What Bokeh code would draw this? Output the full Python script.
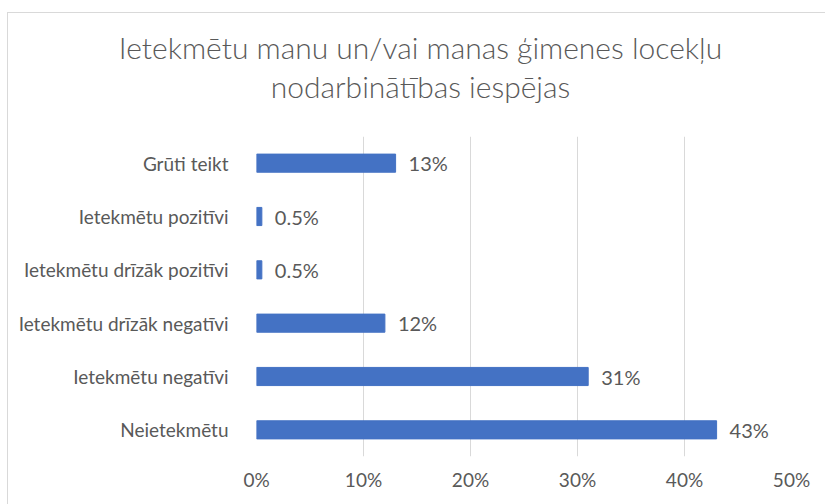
from bokeh.plotting import figure
from bokeh.layouts import column
from bokeh.models import Range1d, FixedTicker, PrintfTickFormatter
from bokeh.core.properties import value
from bokeh.embed import file_html
from bokeh.resources import INLINE

categories = ["Neietekmētu", "Ietekmētu negatīvi", "Ietekmētu drīzāk negatīvi",
              "Ietekmētu drīzāk pozitīvi", "Ietekmētu pozitīvi", "Grūti teikt"]
values = [43, 31, 12, 0.5, 0.5, 13]
value_labels = ["43%", "31%", "12%", "0.5%", "0.5%", "13%"]
x_ticks = [0, 10, 20, 30, 40, 50]
title_lines = ["Ietekmētu manu un/vai manas ģimenes locekļu", "nodarbinātības iespējas"]

FONT = "Lato"
TITLE_FONT = "Lato Light"
GREY = "#595959"
W = 817
TH = 110

# ---- title strip (text laid out in pixel space of its own small figure)
t = figure(width=W, height=TH, output_backend="svg", toolbar_location=None,
           x_range=Range1d(0, W), y_range=Range1d(TH, 0),
           x_axis_type=None, y_axis_type=None,
           min_border_left=0, min_border_right=0, min_border_top=0, min_border_bottom=0)
t.frame_align = False
t.outline_line_color = None
t.grid.visible = False
t.background_fill_color = "white"
t.border_fill_color = "white"
t.text(x=[412, 412], y=[33, 72], text=title_lines, text_align="center",
       text_baseline="alphabetic", text_font=value(TITLE_FONT),
       text_font_size="30px", text_color=GREY)

# ---- bar chart
ypos = [i + 0.5 for i in range(len(categories))]

p = figure(width=W, height=381, output_backend="svg", toolbar_location=None,
           x_range=Range1d(0, 50), y_range=Range1d(0, 6),
           min_border_left=248, min_border_right=34, min_border_top=13, min_border_bottom=48)
p.frame_align = False
p.outline_line_color = None
p.background_fill_color = "white"
p.border_fill_color = "white"

p.hbar(y=ypos, right=values, left=0, height=0.34, color="#4472C4")
p.text(x=values, y=ypos, text=value_labels, x_offset=13, text_baseline="middle",
       text_align="left", text_font=value(FONT), text_font_size="20px", text_color=GREY)

p.xaxis.ticker = FixedTicker(ticks=x_ticks)
p.xaxis.formatter = PrintfTickFormatter(format="%d%%")
p.yaxis.ticker = FixedTicker(ticks=ypos)
p.yaxis.major_label_overrides = {y: c for y, c in zip(ypos, categories)}

for ax in (p.xaxis, p.yaxis):
    ax.axis_line_color = None
    ax.major_tick_line_color = None
    ax.minor_tick_line_color = None
    ax.major_label_text_font = FONT
    ax.major_label_text_color = GREY
p.yaxis.major_label_text_font_size = "19px"
p.xaxis.major_label_text_font_size = "19px"
p.yaxis.major_label_standoff = 22
p.xaxis.major_label_standoff = 5

p.ygrid.grid_line_color = None
p.xgrid.grid_line_color = "#d9d9d9"
p.xgrid.ticker = FixedTicker(ticks=x_ticks)

layout = column(t, p, spacing=0)
layout.margin = (12, 0, 0, 7)
layout.styles = {"border-top": "1px solid #d9d9d9", "border-left": "1px solid #d9d9d9"}

open("out.html", "w").write(file_html(layout, INLINE))
